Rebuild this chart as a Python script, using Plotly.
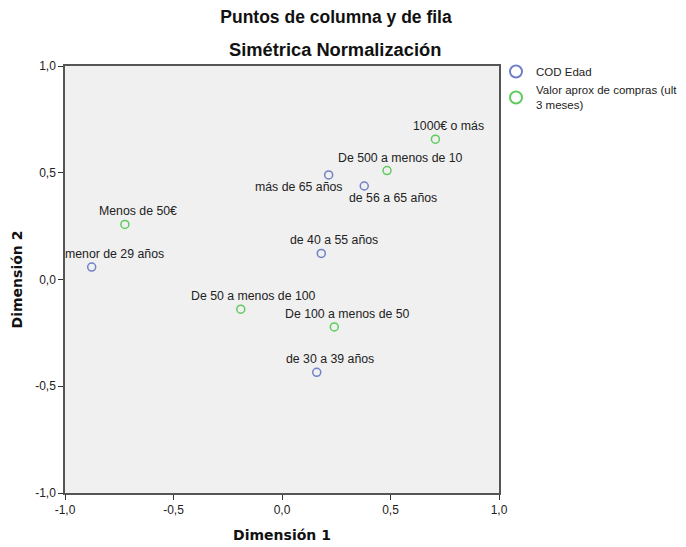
import plotly.graph_objects as go

# Data
edad_labels = ["menor de 29 años", "de 30 a 39 años", "de 40 a 55 años", "de 56 a 65 años", "más de 65 años"]
edad_x = [-0.877, 0.160, 0.181, 0.379, 0.215]
edad_y = [0.058, -0.435, 0.122, 0.438, 0.490]

compras_labels = ["Menos de 50€", "De 50 a menos de 100", "De 100 a menos de 50", "De 500 a menos de 10", "1000€ o más"]
compras_x = [-0.724, -0.190, 0.241, 0.484, 0.707]
compras_y = [0.258, -0.139, -0.222, 0.510, 0.657]

x_ticks = [-1.0, -0.5, 0.0, 0.5, 1.0]
x_ticktext = ["-1,0", "-0,5", "0,0", "0,5", "1,0"]
y_ticks = [-1.0, -0.5, 0.0, 0.5, 1.0]
y_ticktext = ["-1,0", "-0,5", "0,0", "0,5", "1,0"]

# label offsets (pixels) - style
default_off = (13, -13)
special_off = {
    "más de 65 años": (-30, 12),
    "de 56 a 65 años": (29, 12),
    "menor de 29 años": (23, -13),
}

BLUE = "#6F80C8"
GREEN = "#5FCB5F"
FONT = "Liberation Sans, Arial, sans-serif"
AXFONT = "DejaVu Sans, Verdana, sans-serif"

# page body has a default 8px margin; compensate
OFF = 8
W, H = 686 - OFF, 547 - OFF
PL, PR, PT, PB = 65 - OFF, 499 - OFF, 66 - OFF, 493 - OFF
PW, PH = PR - PL, PB - PT

fig = go.Figure()
fig.add_trace(go.Scatter(
    x=edad_x, y=edad_y, mode="markers", name="COD Edad",
    marker=dict(symbol="circle-open", size=8, color=BLUE, line=dict(width=1.5)),
    cliponaxis=False,
))
fig.add_trace(go.Scatter(
    x=compras_x, y=compras_y, mode="markers", name="Valor aprox de compras (ult<br>3 meses)",
    marker=dict(symbol="circle-open", size=8, color=GREEN, line=dict(width=1.5)),
    cliponaxis=False,
))

annotations = []
for labels, xs, ys in [(edad_labels, edad_x, edad_y), (compras_labels, compras_x, compras_y)]:
    for lab, xv, yv in zip(labels, xs, ys):
        dx, dy = special_off.get(lab, default_off)
        annotations.append(dict(
            x=xv, y=yv, xref="x", yref="y", text=lab, showarrow=False,
            xanchor="center", yanchor="middle", xshift=dx, yshift=-dy,
            font=dict(family=FONT, size=12.3, color="#222222"),
        ))

annotations.append(dict(
    x=(335 - 65) / 434, y=1.0, xref="paper", yref="paper", yanchor="middle", yshift=17,
    text="<b>Simétrica Normalización</b>", showarrow=False,
    font=dict(family=FONT, size=18.3, color="#111111"),
))

fig.update_layout(
    width=W, height=H,
    margin=dict(l=PL, r=W - PR, t=PT, b=H - PB, autoexpand=False),
    paper_bgcolor="white",
    plot_bgcolor="#F0F0F0",
    title=dict(text="<b>Puntos de columna y de fila</b>", x=(336 - OFF) / W, xanchor="center",
               y=1 - (17 - OFF) / H, yanchor="middle", yref="container",
               font=dict(family=FONT, size=17.5, color="#111111")),
    font=dict(family=FONT, size=11, color="#222222"),
    showlegend=True,
    legend=dict(x=1 + (496 - 499) / PW, y=1 + (66 - 57) / PH, xanchor="left", yanchor="top",
                font=dict(family=FONT, size=11.5, color="#222222"),
                tracegroupgap=0, itemsizing="constant", bgcolor="rgba(0,0,0,0)"),
    annotations=annotations,
)
fig.update_xaxes(
    range=[-1.0, 1.0], tickvals=x_ticks, ticktext=x_ticktext, automargin=False,
    showgrid=False, zeroline=False,
    showline=True, linecolor="#555555", linewidth=1.5, mirror=True,
    ticks="outside", ticklen=5, tickcolor="#333333",
    title=dict(text="<b>Dimensión 1</b>", font=dict(family=AXFONT, size=14, color="#111111"), standoff=14),
    tickfont=dict(family=FONT, size=12, color="#222222"),
)
fig.update_yaxes(
    range=[-1.0, 1.0], tickvals=y_ticks, ticktext=y_ticktext, automargin=False,
    showgrid=False, zeroline=False,
    showline=True, linecolor="#555555", linewidth=1.5, mirror=True,
    ticks="outside", ticklen=5, tickcolor="#333333",
    title=dict(text="<b>Dimensión 2</b>", font=dict(family=AXFONT, size=14, color="#111111"), standoff=9),
    tickfont=dict(family=FONT, size=12, color="#222222"),
)

fig.write_html("out.html")
